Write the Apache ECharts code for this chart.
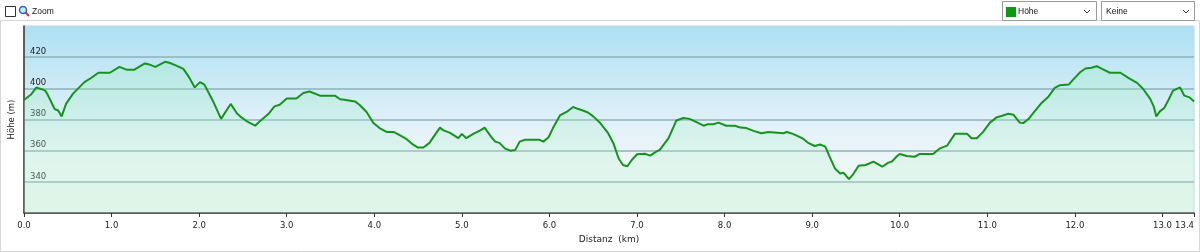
<!DOCTYPE html>
<html>
<head>
<meta charset="utf-8">
<script src="https://cdn.jsdelivr.net/npm/echarts@6/dist/echarts.min.js"></script>
<style>
html,body{margin:0;padding:0;background:#fff;}
#c{width:1200px;height:252px;}
</style>
</head>
<body>
<div id="c"></div>
<script>
// Distance along track (km)
var distanceKm = [0.00,0.08,0.14,0.24,0.27,0.35,0.39,0.43,0.48,0.56,0.69,0.75,0.85,0.98,1.09,1.17,1.26,1.38,1.42,1.50,1.61,1.66,1.74,1.82,1.89,1.95,2.01,2.06,2.16,2.25,2.36,2.43,2.48,2.54,2.64,2.69,2.79,2.86,2.92,3.00,3.11,3.19,3.26,3.38,3.55,3.61,3.66,3.78,3.83,3.91,3.99,4.06,4.14,4.22,4.29,4.37,4.44,4.50,4.56,4.63,4.69,4.75,4.79,4.86,4.96,5.00,5.05,5.13,5.21,5.26,5.32,5.38,5.43,5.49,5.55,5.61,5.66,5.72,5.89,5.93,5.99,6.04,6.12,6.20,6.27,6.33,6.39,6.44,6.50,6.58,6.67,6.73,6.79,6.84,6.89,6.94,7.00,7.09,7.15,7.22,7.26,7.36,7.45,7.53,7.60,7.68,7.76,7.81,7.87,7.93,8.02,8.12,8.18,8.25,8.33,8.42,8.50,8.52,8.67,8.71,8.78,8.86,8.90,8.96,9.03,9.09,9.15,9.20,9.26,9.32,9.36,9.42,9.47,9.53,9.61,9.70,9.80,9.87,9.91,9.97,10.00,10.08,10.17,10.23,10.38,10.46,10.54,10.63,10.77,10.82,10.88,10.95,11.03,11.11,11.17,11.24,11.30,11.37,11.41,11.47,11.54,11.62,11.70,11.77,11.83,11.93,11.98,12.06,12.12,12.19,12.25,12.31,12.40,12.52,12.61,12.71,12.78,12.86,12.90,12.93,12.97,13.02,13.07,13.12,13.20,13.25,13.31,13.36];
// Elevation (m)
var elevationM = [392.5,396,400.5,398.7,396,386.7,385.8,382,390,396.6,404,406,410,410,413.8,412,412,416,415.5,413.8,417,416.4,414.6,412.5,406.7,400.6,404,402.4,391.6,380.4,390,384,381.5,379,376,378.7,383.5,388.4,389.5,393.5,393.5,397,398,395.3,395.3,393,392.7,391.6,389.5,385,377.7,374.5,372,372,370,367.4,364,362,362,365,370,374.8,373,371.6,368,370.8,368,370.8,373,374.8,370,365.8,365,361.5,360,360.5,365.8,367,367,365.8,368.6,374.5,382.6,385,388,386.7,385.6,384.5,382,377.7,371.2,364.8,355,350.8,350,354,357.7,358,356.8,359.4,360.5,368,379.4,381,380.4,378.3,376,377,377,378,376,376,374.8,374.5,372.7,371.2,372,371.2,371.2,372,370.8,368.7,367.5,364.8,363,364,362.6,356,348.6,345.4,345.8,341.7,345,350.3,350.8,353,349.7,352.3,353,356.6,357.9,356.6,356.1,357.9,357.9,361.5,363.2,370.8,370.8,368,368,371.9,378,381.5,382.4,383.7,383,378,377.7,380.3,385.2,390.6,394.8,400.3,402,402.4,405.6,410.3,412.7,413.2,414.2,412.5,410,410,406.7,403.5,399.6,393.2,388.4,382,385.2,387.4,392.7,398.5,400.6,395.3,394.2,391.6];
var yTicks = [340,360,380,400,420];
var xTitle = 'Distanz  (km)';
var yTitle = 'Höhe (m)';
var selectLeft = 'Höhe';
var selectRight = 'Keine';
var zoomLabel = 'Zoom';

var points = distanceKm.map(function(d,i){return [d, elevationM[i]];});
var chart = echarts.init(document.getElementById('c'), null, {renderer:'canvas'});
var lbl = 'DejaVu Sans';
var ui = 'Liberation Sans';
chart.setOption({
  animation:false,
  backgroundColor:'#ffffff',
  grid:{left:24,top:26,right:6,bottom:39,containLabel:false,outerBoundsMode:'none',show:true,borderColor:'#b9d9e6',borderWidth:1,
    backgroundColor:new echarts.graphic.LinearGradient(0,0,0,1,[
      {offset:0,color:'#ade0f2'},{offset:0.55,color:'#e4f2f9'},{offset:0.75,color:'#eef7f8'},{offset:1,color:'#e4f6ec'}])},
  xAxis:{type:'value',min:0,max:13.36,interval:1,
    name:xTitle,nameLocation:'middle',nameGap:22,
    nameTextStyle:{fontFamily:lbl,fontSize:9,color:'#222'},
    axisLine:{show:true,onZero:false,lineStyle:{color:'#333',width:1.5}},
    axisTick:{show:true,length:4,lineStyle:{color:'#333'}},
    axisLabel:{fontFamily:lbl,fontSize:8.5,color:'#222',margin:8,alignMaxLabel:'right',
      formatter:function(v){return v.toFixed(1);}},
    splitLine:{show:false}},
  yAxis:{type:'value',min:320,max:440,interval:20,
    name:yTitle,nameLocation:'middle',nameGap:3,nameRotate:90,
    nameTextStyle:{fontFamily:lbl,fontSize:8.5,color:'#222'},
    axisLine:{show:true,lineStyle:{color:'#333',width:1.5}},
    axisTick:{show:false},
    axisLabel:{inside:true,fontFamily:lbl,fontSize:8.5,color:'#222',margin:6,verticalAlign:'bottom',padding:[0,0,1,0],
      formatter:function(v){return yTicks.indexOf(v)>=0?String(v):'';}},
    splitLine:{show:true,lineStyle:{width:1.5,color:['rgba(0,0,0,0)','#8fb0b8','#8fb0b8','#8fb0b8','#8fb0b8','#8fb0b8','rgba(0,0,0,0)']}}},
  series:[{type:'line',data:points,showSymbol:false,smooth:false,
    lineStyle:{color:'#16931e',width:2},
    areaStyle:{origin:'start',color:new echarts.graphic.LinearGradient(0,0,0,1,[
      {offset:0,color:'rgba(150,235,190,0.45)'},{offset:1,color:'rgba(200,245,215,0.35)'}])},
    z:3}],
  graphic:[
    {type:'rect',shape:{x:0.5,y:20.5,width:1199,height:231},style:{fill:'none',stroke:'#d6d6d6',lineWidth:1},silent:true,z:-1},
    {type:'rect',shape:{x:5.5,y:6.5,width:10,height:10},style:{fill:'#fff',stroke:'#333',lineWidth:1}},
    {type:'circle',shape:{cx:23,cy:10,r:3.5},style:{fill:'#cfe6ff',stroke:'#2b63c6',lineWidth:1.5}},
    {type:'line',shape:{x1:25.5,y1:12.5,x2:29,y2:16},style:{stroke:'#c0392b',lineWidth:2}},
    {type:'text',style:{x:32,y:11.5,text:zoomLabel,fontFamily:ui,fontSize:8.5,fill:'#111',verticalAlign:'middle'}},
    {type:'rect',shape:{x:1002.5,y:1.5,width:94,height:19},style:{fill:'#fff',stroke:'#9a9a9a',lineWidth:1}},
    {type:'rect',shape:{x:1006,y:7,width:10,height:10},style:{fill:'#0e9a0e'}},
    {type:'text',style:{x:1018,y:12,text:selectLeft,fontFamily:ui,fontSize:8.5,fill:'#111',verticalAlign:'middle'}},
    {type:'polyline',shape:{points:[[1084,10],[1087,13],[1090,10]]},style:{stroke:'#333',lineWidth:1,fill:'none'}},
    {type:'rect',shape:{x:1101.5,y:1.5,width:93,height:19},style:{fill:'#fff',stroke:'#9a9a9a',lineWidth:1}},
    {type:'text',style:{x:1106,y:12,text:selectRight,fontFamily:ui,fontSize:8.5,fill:'#111',verticalAlign:'middle'}},
    {type:'polyline',shape:{points:[[1183,10],[1186,13],[1189,10]]},style:{stroke:'#333',lineWidth:1,fill:'none'}}
  ]
});
</script>
</body>
</html>
